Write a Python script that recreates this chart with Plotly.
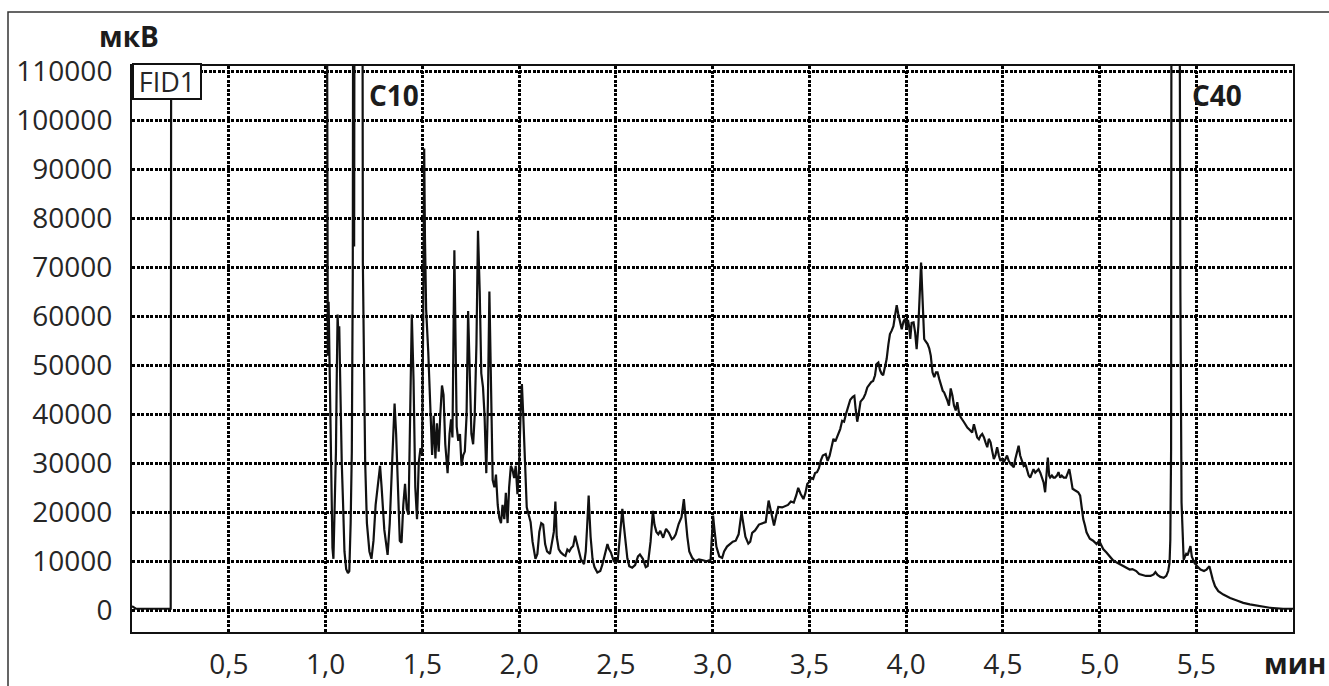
import plotly.graph_objects as go

# Figure geometry (px)
W, H = 1329, 686
ML, MR, MT, MB = 132, 36, 66, 54

# Retention time, min
time_min = [
    0.000, 0.020, 0.200, 0.204, 1.004, 1.009, 1.012, 1.016, 1.022, 1.027,
    1.036, 1.041, 1.047, 1.054, 1.058, 1.0625, 1.067, 1.071, 1.075, 1.079,
    1.084, 1.091, 1.098, 1.107, 1.116, 1.123, 1.130, 1.136, 1.141, 1.145,
    1.148, 1.152, 1.189, 1.193, 1.200, 1.205, 1.214, 1.227, 1.2375, 1.248,
    1.259, 1.270, 1.282, 1.290, 1.304, 1.321, 1.332, 1.343, 1.357, 1.365,
    1.375, 1.384, 1.393, 1.402, 1.411, 1.420, 1.429, 1.436, 1.446, 1.455,
    1.464, 1.473, 1.482, 1.491, 1.499, 1.505, 1.510, 1.514, 1.520, 1.531,
    1.539, 1.551, 1.559, 1.568, 1.576, 1.585, 1.593, 1.602, 1.610, 1.619,
    1.631, 1.641, 1.649, 1.656, 1.666, 1.673, 1.678, 1.686, 1.695, 1.703,
    1.712, 1.720, 1.729, 1.737, 1.746, 1.754, 1.763, 1.771, 1.780, 1.788,
    1.797, 1.805, 1.814, 1.822, 1.831, 1.839, 1.847, 1.856, 1.864, 1.873,
    1.881, 1.890, 1.898, 1.907, 1.915, 1.924, 1.932, 1.941, 1.949, 1.958,
    1.966, 1.975, 1.983, 1.992, 2.000, 2.008, 2.015, 2.022, 2.030, 2.040,
    2.050, 2.060, 2.070, 2.085, 2.095, 2.105, 2.115, 2.125, 2.135, 2.145,
    2.160, 2.170, 2.180, 2.188, 2.195, 2.205, 2.216, 2.230, 2.240, 2.250,
    2.260, 2.270, 2.280, 2.290, 2.300, 2.310, 2.320, 2.336, 2.345, 2.352,
    2.360, 2.365, 2.370, 2.380, 2.390, 2.405, 2.420, 2.430, 2.440, 2.457,
    2.465, 2.475, 2.490, 2.500, 2.510, 2.520, 2.534, 2.540, 2.550, 2.560,
    2.570, 2.585, 2.600, 2.615, 2.625, 2.640, 2.655, 2.665, 2.680, 2.692,
    2.700, 2.710, 2.720, 2.730, 2.745, 2.760, 2.775, 2.790, 2.800, 2.810,
    2.825, 2.840, 2.852, 2.860, 2.870, 2.880, 2.895, 2.910, 2.930, 2.950,
    2.970, 2.990, 3.003, 3.010, 3.020, 3.035, 3.050, 3.060, 3.075, 3.090,
    3.105, 3.120, 3.135, 3.150, 3.160, 3.170, 3.185, 3.195, 3.205, 3.220,
    3.240, 3.260, 3.275, 3.290, 3.300, 3.310, 3.318, 3.330, 3.340, 3.360,
    3.375, 3.390, 3.405, 3.420, 3.433, 3.443, 3.455, 3.470, 3.480, 3.490,
    3.500, 3.510, 3.520, 3.530, 3.540, 3.550, 3.560, 3.570, 3.585, 3.595,
    3.605, 3.615, 3.625, 3.635, 3.645, 3.660, 3.670, 3.680, 3.690, 3.700,
    3.712, 3.725, 3.733, 3.740, 3.748, 3.755, 3.765, 3.780, 3.790, 3.800,
    3.810, 3.820, 3.830, 3.840, 3.848, 3.857, 3.866, 3.874, 3.882, 3.891,
    3.900, 3.909, 3.917, 3.926, 3.935, 3.943, 3.952, 3.960, 3.969, 3.978,
    3.987, 3.995, 4.003, 4.010, 4.016, 4.022, 4.029, 4.039, 4.047, 4.055,
    4.064, 4.072, 4.078, 4.083, 4.088, 4.094, 4.100, 4.111, 4.120, 4.128,
    4.137, 4.146, 4.155, 4.163, 4.172, 4.180, 4.190, 4.197, 4.205, 4.214,
    4.222, 4.231, 4.240, 4.248, 4.257, 4.265, 4.274, 4.283, 4.300, 4.317,
    4.330, 4.342, 4.351, 4.360, 4.368, 4.377, 4.385, 4.394, 4.403, 4.411,
    4.420, 4.428, 4.437, 4.445, 4.454, 4.462, 4.471, 4.480, 4.488, 4.497,
    4.505, 4.514, 4.522, 4.530, 4.539, 4.548, 4.557, 4.565, 4.574, 4.582,
    4.590, 4.600, 4.608, 4.617, 4.625, 4.634, 4.642, 4.650, 4.659, 4.668,
    4.676, 4.685, 4.694, 4.702, 4.711, 4.719, 4.728, 4.733, 4.740, 4.745,
    4.754, 4.762, 4.770, 4.780, 4.788, 4.797, 4.805, 4.815, 4.827, 4.839,
    4.844, 4.850, 4.861, 4.873, 4.890, 4.900, 4.908, 4.916, 4.925, 4.933,
    4.942, 4.950, 4.967, 4.985, 4.998, 5.010, 5.019, 5.036, 5.053, 5.070,
    5.087, 5.100, 5.120, 5.140, 5.156, 5.170, 5.190, 5.205, 5.224, 5.240,
    5.264, 5.280, 5.289, 5.300, 5.315, 5.332, 5.345, 5.355, 5.362, 5.366,
    5.370, 5.373, 5.410, 5.414, 5.418, 5.424, 5.430, 5.435, 5.440, 5.448,
    5.455, 5.462, 5.470, 5.477, 5.485, 5.490, 5.505, 5.522, 5.540, 5.553,
    5.568, 5.575, 5.585, 5.597, 5.614, 5.640, 5.675, 5.710, 5.743, 5.777,
    5.829, 5.880, 5.949, 6.000,
]

# FID signal, µV (200000 = detector saturated, above the top of the scale)
signal_uv = [
    800, 300, 300, 200000, 200000, 87000, 52000, 63000, 45000, 30200,
    12700, 10500, 21500, 32400, 47000, 60400, 55700, 58000, 49100, 39700,
    30200, 21500, 12000, 8400, 7600, 8000, 17800, 32400, 68800, 200000,
    74300, 200000, 200000, 71000, 47000, 30200, 17800, 12000, 10500, 14200,
    21500, 26000, 29500, 25100, 16400, 11300, 17800, 28800, 42200, 36000,
    25100, 14200, 13800, 21500, 25800, 20700, 19500, 39700, 60400, 47000,
    25100, 18600, 30200, 33100, 32000, 60000, 94300, 76100, 61500, 52800,
    43300, 31700, 39700, 31000, 38200, 32400, 39700, 45900, 44000, 33900,
    28000, 36000, 39000, 35300, 73500, 54300, 37500, 34600, 36000, 29500,
    31700, 32400, 39700, 61100, 47000, 36000, 33900, 39700, 54300, 77500,
    65100, 48400, 45500, 39700, 28000, 41900, 65100, 47000, 26600, 25100,
    27700, 21500, 18900, 17800, 21500, 18600, 24000, 17800, 25100, 29500,
    28800, 27000, 29500, 23700, 28800, 40000, 46200, 39700, 30200, 21000,
    19500, 18000, 14000, 10500, 11500, 16000, 17800, 17500, 13500, 12000,
    11500, 13500, 16000, 22200, 15000, 12500, 11800, 11300, 11100, 12400,
    12000, 12700, 13100, 15200, 13500, 12000, 10400, 9400, 12000, 17000,
    23400, 19000, 15000, 10500, 8800, 7700, 8000, 9200, 10700, 13500,
    12500, 11800, 10000, 9700, 10000, 14000, 20700, 18000, 14000, 10600,
    9000, 8700, 9200, 11000, 11400, 10500, 8800, 9000, 14000, 20300,
    17500, 16000, 15500, 16200, 14800, 16600, 15800, 14500, 14800, 15500,
    17600, 19000, 22700, 19000, 15000, 12000, 10700, 10000, 10400, 10200,
    10000, 10300, 19300, 16500, 13000, 11000, 10700, 12000, 13000, 13500,
    14000, 14200, 15500, 20000, 17000, 15000, 13600, 14000, 15800, 16300,
    17500, 17700, 18000, 22400, 20300, 18500, 17300, 19500, 21100, 21000,
    21300, 21500, 22200, 22000, 23500, 25000, 23800, 22700, 23900, 25800,
    26200, 27000, 26800, 28000, 28200, 29000, 30600, 31600, 31900, 30500,
    31500, 33600, 35000, 34500, 35500, 37000, 38700, 38500, 40100, 41500,
    43000, 43600, 43800, 41000, 38500, 40000, 42600, 43300, 44200, 45500,
    46000, 46600, 46800, 48000, 50300, 50600, 49000, 48300, 48000, 49500,
    51300, 54300, 56400, 57100, 58000, 60100, 62300, 60500, 58700, 57400,
    59000, 59500, 57500, 59300, 58000, 55400, 58700, 58800, 56800, 53300,
    58100, 66000, 71000, 66000, 58700, 55400, 55000, 54400, 53500, 52000,
    48600, 47600, 48600, 48600, 47200, 45900, 44800, 44500, 43800, 42800,
    41800, 45300, 43800, 41800, 40800, 42500, 40300, 39400, 38400, 37300,
    36800, 36300, 38000, 36600, 35300, 34900, 35600, 36000, 35300, 34300,
    33300, 35000, 34300, 32600, 30900, 31600, 33300, 31600, 30500, 30900,
    30200, 30900, 31600, 30600, 29900, 29600, 29200, 30900, 32200, 33600,
    31600, 30200, 29500, 29900, 28800, 27500, 27100, 27800, 28800, 28100,
    28500, 28800, 28100, 27100, 26100, 24100, 30200, 31200, 27500, 27100,
    27500, 27100, 27100, 27500, 28200, 27100, 27500, 27100, 27100, 28500,
    28800, 27500, 24800, 24500, 24100, 23400, 20700, 18600, 17300, 15900,
    15200, 14600, 14200, 13500, 14200, 13000, 12500, 11800, 11000, 10200,
    9800, 9500, 9000, 8600, 8300, 8400, 8000, 7400, 7200, 7000,
    7000, 7300, 7800, 7200, 6800, 6600, 7000, 8000, 9700, 14400,
    32800, 200000, 200000, 98000, 65000, 22000, 12400, 10300, 10800, 11500,
    11200, 12000, 13100, 11000, 10300, 9700, 9000, 8300, 8000, 8300,
    9000, 7700, 6300, 4900, 3900, 3200, 2500, 2000, 1500, 1200,
    800, 500, 300, 300,
]

# Axis ticks
y_ticks = list(range(0, 110001, 10000))
x_ticks = [0.5, 1.0, 1.5, 2.0, 2.5, 3.0, 3.5, 4.0, 4.5, 5.0, 5.5]
x_tick_labels = ["0,5", "1,0", "1,5", "2,0", "2,5", "3,0", "3,5", "4,0", "4,5", "5,0", "5,5"]

# Peak labels
peak_names = ["C10", "C40"]
peak_label_time = [1.355, 5.605]
peak_label_level = 105200

FONT = "Open Sans"
INK = "#1c1c1c"
TICK_INK = "#262626"

fig = go.Figure()
fig.add_trace(go.Scatter(
    x=time_min, y=signal_uv, mode="lines",
    line=dict(color="#111111", width=2.2),
    hoverinfo="skip", showlegend=False,
))

grid_dash = "3px,1.5px"
fig.update_xaxes(
    range=[0, 6.0], tickvals=x_ticks, ticktext=x_tick_labels,
    showgrid=True, gridcolor="#000000", gridwidth=2.6, griddash=grid_dash,
    showline=True, linecolor="#111111", linewidth=2, mirror=True,
    ticks="outside", ticklen=6, tickcolor="rgba(0,0,0,0)",
    tickfont=dict(family=FONT, size=28, color=TICK_INK),
    zeroline=False, fixedrange=True, automargin=False,
)
fig.update_yaxes(
    range=[-4450, 111160], tickvals=y_ticks,
    ticktext=[str(v) for v in y_ticks],
    showgrid=True, gridcolor="#000000", gridwidth=2.6, griddash=grid_dash,
    showline=True, linecolor="#111111", linewidth=2, mirror=True,
    ticks="outside", ticklen=12, tickcolor="rgba(0,0,0,0)",
    tickfont=dict(family=FONT, size=28, color=TICK_INK),
    zeroline=False, fixedrange=True, automargin=False,
)

plot_w = W - ML - MR
plot_h = H - MT - MB


def px_x(px):
    return (px - ML) / plot_w


def px_y(py):
    return (H - MB - py) / plot_h


annotations = []
for name, t in zip(peak_names, peak_label_time):
    annotations.append(dict(
        x=t, y=peak_label_level, xref="x", yref="y", text=f"<b>{name}</b>",
        showarrow=False, xanchor="center", yanchor="middle",
        font=dict(family=FONT, size=28, color=INK),
    ))

# Detector label box
annotations.append(dict(
    x=0, y=px_y(63), xref="paper", yref="paper", text="FID1",
    showarrow=False, xanchor="left", yanchor="top",
    width=66, height=33, align="center", valign="middle",
    font=dict(family=FONT, size=27, color=TICK_INK),
    bgcolor="white", bordercolor="#111111", borderwidth=2, borderpad=0,
))
# Axis units
annotations.append(dict(
    x=px_x(129), y=px_y(36), xref="paper", yref="paper", text="<b>мкВ</b>",
    showarrow=False, xanchor="center", yanchor="middle",
    font=dict(family=FONT, size=28, color=INK),
))
annotations.append(dict(
    x=px_x(1295), y=px_y(663), xref="paper", yref="paper", text="<b>мин</b>",
    showarrow=False, xanchor="center", yanchor="middle",
    font=dict(family=FONT, size=28, color=INK),
))

# Outer frame of the figure
shapes = [dict(
    type="rect", xref="paper", yref="paper",
    x0=px_x(8), x1=px_x(W + 20), y0=px_y(H + 20), y1=px_y(12),
    line=dict(color="#333333", width=1.5), fillcolor="rgba(0,0,0,0)",
    layer="below",
)]

fig.update_layout(
    width=W, height=H,
    margin=dict(l=ML, r=MR, t=MT, b=MB, pad=0),
    paper_bgcolor="white", plot_bgcolor="white",
    annotations=annotations, shapes=shapes,
    showlegend=False,
)

fig.write_html("out.html", config={"displayModeBar": False})
